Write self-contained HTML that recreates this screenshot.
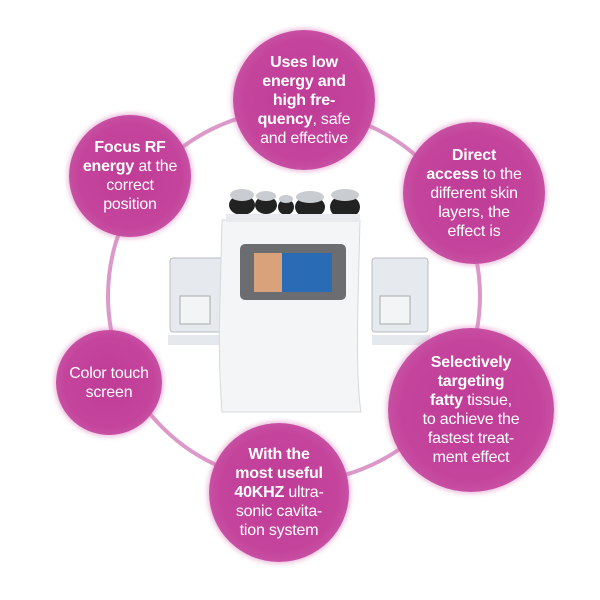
<!DOCTYPE html>
<html><head><meta charset="utf-8"><style>
body{margin:0;width:600px;height:600px;background:#fff;overflow:hidden;position:relative;font-family:"Liberation Sans",sans-serif}
.c{position:absolute;border-radius:50%;background:radial-gradient(circle,#c03c97 0%,#c4449c 60%,#cd62ad 88%,#e4a6d0 100%);box-shadow:0 0 4px 2px rgba(215,120,185,.45);color:#fff;display:flex;align-items:center;justify-content:center;text-align:center;font-size:16px;line-height:19px;letter-spacing:-0.2px;white-space:nowrap}
b{font-weight:bold}
</style></head><body>
<svg width="600" height="600" style="position:absolute;left:0;top:0">
<circle cx="294" cy="296" r="186" fill="none" stroke="#dc98c8" stroke-width="4"/>
<g>
<rect x="170" y="258" width="56" height="74" rx="3" fill="#e6e9ed" stroke="#b8bcc2"/>
<rect x="168" y="335" width="58" height="10" fill="#dfe3e8" opacity=".8"/>
<rect x="372" y="258" width="56" height="74" rx="3" fill="#e6e9ed" stroke="#b8bcc2"/>
<rect x="372" y="335" width="58" height="10" fill="#dfe3e8" opacity=".8"/>
<rect x="180" y="296" width="30" height="28" fill="#f3f4f6" stroke="#aaa"/>
<rect x="380" y="296" width="30" height="28" fill="#f3f4f6" stroke="#aaa"/>
<path d="M222 220 L360 220 L358 300 Q356 380 361 412 L222 412 Q218 360 220 300 Z" fill="#f4f5f7" stroke="#d5d8dc"/>
<rect x="240" y="244" width="106" height="56" rx="5" fill="#6b6d70"/>
<rect x="254" y="253" width="78" height="39" fill="#2a6bb5"/>
<rect x="254" y="253" width="28" height="39" fill="#d9a27a"/>
<g fill="#222"><ellipse cx="242" cy="205" rx="13" ry="10"/><ellipse cx="266" cy="205" rx="11" ry="9"/><ellipse cx="286" cy="207" rx="8" ry="8"/><ellipse cx="310" cy="207" rx="15" ry="11"/><ellipse cx="345" cy="207" rx="15" ry="12"/></g>
<g fill="#c9ccd0"><ellipse cx="242" cy="195" rx="12" ry="6"/><ellipse cx="266" cy="196" rx="10" ry="5"/><ellipse cx="286" cy="199" rx="7" ry="4"/><ellipse cx="310" cy="197" rx="14" ry="6"/><ellipse cx="345" cy="195" rx="14" ry="6"/></g>
<rect x="226" y="214" width="134" height="8" fill="#e8eaed"/>
</g>
</svg>
<div class="c" style="left:233px;top:30px;width:142px;height:140px"><div><b>Uses low<br>energy and<br>high fre-<br>quency</b>, safe<br>and effective</div></div>
<div class="c" style="left:69px;top:115px;width:122px;height:122px"><div><b>Focus RF<br>energy</b> at the<br>correct<br>position</div></div>
<div class="c" style="left:403px;top:122px;width:142px;height:142px"><div><b>Direct<br>access</b> to the<br>different skin<br>layers, the<br>effect is</div></div>
<div class="c" style="left:56px;top:330px;width:106px;height:105px"><div>Color touch<br>screen</div></div>
<div class="c" style="left:388px;top:328px;width:166px;height:164px"><div><b>Selectively<br>targeting<br>fatty</b> tissue,<br>to achieve the<br>fastest treat-<br>ment effect</div></div>
<div class="c" style="left:209px;top:423px;width:140px;height:139px"><div><b>With the<br>most useful<br>40KHZ</b> ultra-<br>sonic cavita-<br>tion system</div></div>
</body></html>
